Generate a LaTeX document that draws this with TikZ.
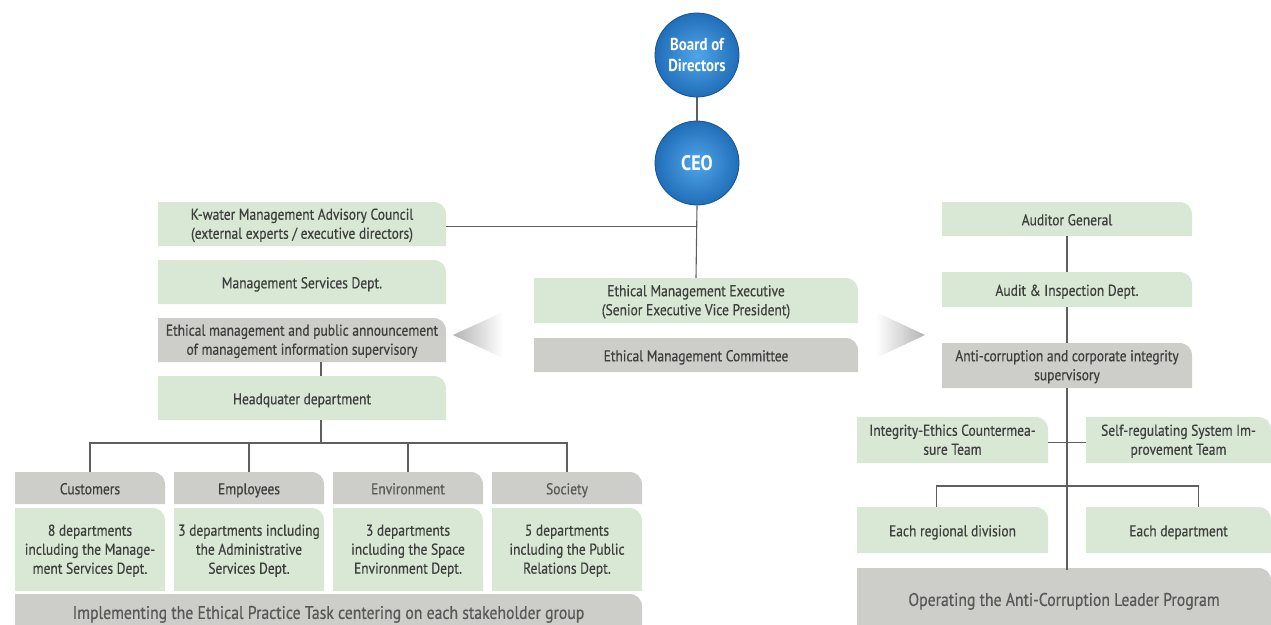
\documentclass[tikz,border=0pt]{standalone}
\usepackage{fontspec}
\setmainfont[FakeStretch=0.86]{PT Sans}
\newfontfamily\medfont[FakeStretch=0.86,FakeBold=0.5]{PT Sans}
\usetikzlibrary{calc}

\definecolor{boxgreen}{RGB}{217,232,213}
\definecolor{boxgray}{RGB}{205,205,201}
\definecolor{linec}{RGB}{95,95,95}
\definecolor{txtc}{RGB}{62,62,62}
\definecolor{softtxt}{RGB}{88,88,88}
\definecolor{ballin}{RGB}{80,165,232}
\definecolor{ballout}{RGB}{32,110,185}
\definecolor{ballrim}{RGB}{25,80,145}

\tikzset{
  x=1pt, y=-1pt,
  boxtext/.style={inner sep=0pt, align=center, text=txtc, yshift=-2.5pt,
    font=\medfont\fontsize{15.7}{19}\selectfont,
    execute at begin node=\strut, execute at end node=\strut},
  bartext/.style={boxtext, text=softtxt, font=\medfont\fontsize{18.3}{22}\selectfont},
  ballnode/.style={circle, minimum size=84pt, inner sep=0pt, align=center,
    text=white, draw=ballrim, line width=0.8pt,
    inner color=ballin, outer color=ballout},
  conn/.style={draw=linec, line width=1.1pt}
}

% box with a single rounded corner at its top right, plus its text node
% #1 name, #2 x1, #3 y1, #4 x2, #5 y2, #6 fill, #7 node style, #8 text
\newcommand\orgbox[8]{%
  \fill[#6] (#2,#5) -- (#2,#3) -- ({#4-13},#3)
    .. controls ({#4-5},#3) and (#4,{#3+5}) .. (#4,{#3+13}) -- (#4,#5) -- cycle;
  \node[#7, minimum width={(#4-#2)*1pt}, minimum height={(#5-#3)*1pt}]
    (#1) at ({(#2+#4)/2},{(#3+#5)/2}) {#8};
}

\begin{document}
\begin{tikzpicture}
\useasboundingbox (0,0) rectangle (1271,624);
\clip (0,0) rectangle (1271,624);

% top of the chart
\node[ballnode, font=\bfseries\fontsize{17.3}{21.5}\selectfont] (board) at (697,55) {Board of\\Directors};
\node[ballnode, font=\bfseries\fontsize{21}{24}\selectfont] (ceo) at (697,163) {CEO};

% left column
\orgbox{adv}{158}{202}{446}{246}{boxgreen}{boxtext}{K-water Management Advisory Council\\(external experts / executive directors)}
\orgbox{msd}{158}{260}{446}{304}{boxgreen}{boxtext}{Management Services Dept.}
\orgbox{ethsup}{158}{318}{446}{362}{boxgray}{boxtext}{Ethical management and public announcement\\of management information supervisory}
\orgbox{hq}{158}{376}{446}{420}{boxgreen}{boxtext}{Headquater department}

% stakeholder groups
\orgbox{cust}{15}{472}{165}{504}{boxgray}{boxtext}{Customers}
\orgbox{emp}{174}{472}{324}{504}{boxgray}{boxtext}{Employees}
\orgbox{env}{333}{472}{483}{504}{boxgray}{boxtext, text=softtxt}{Environment}
\orgbox{soc}{492}{472}{642}{504}{boxgray}{boxtext, text=softtxt}{Society}
\orgbox{custd}{15}{508}{165}{591}{boxgreen}{boxtext}{8 departments\\including the Manage-\\ment Services Dept.}
\orgbox{empd}{174}{508}{324}{591}{boxgreen}{boxtext}{3 departments including\\the Administrative\\Services Dept.}
\orgbox{envd}{333}{508}{483}{591}{boxgreen}{boxtext}{3 departments\\including the Space\\Environment Dept.}
\orgbox{socd}{492}{508}{642}{591}{boxgreen}{boxtext}{5 departments\\including the Public\\Relations Dept.}
\orgbox{lbar}{15}{594}{642}{630}{boxgray}{bartext}{Implementing the Ethical Practice Task centering on each stakeholder group}

% middle column
\orgbox{exec}{534}{278}{858}{323}{boxgreen}{boxtext}{Ethical Management Executive\\(Senior Executive Vice President)}
\orgbox{comm}{534}{338}{858}{372}{boxgray}{boxtext}{Ethical Management Committee}

% fading arrow heads on either side of the middle column
\shade[left color=black!30, right color=white] (453,335) -- (503,312) -- (503,358) -- cycle;
\shade[left color=white, right color=black!30] (925,335) -- (876,312) -- (876,358) -- cycle;

% right column
\orgbox{aud}{942}{202}{1192}{236}{boxgreen}{boxtext}{Auditor General}
\orgbox{insp}{942}{272}{1192}{307}{boxgreen}{boxtext}{Audit \& Inspection Dept.}
\orgbox{anti}{942}{343}{1192}{388}{boxgray}{boxtext}{Anti-corruption and corporate integrity\\supervisory}
\orgbox{integ}{857}{417}{1048}{463}{boxgreen}{boxtext}{Integrity-Ethics Countermea-\\sure Team}
\orgbox{selfreg}{1086}{417}{1271}{463}{boxgreen}{boxtext}{Self-regulating System Im-\\provement Team}
\orgbox{reg}{857}{507}{1048}{553}{boxgreen}{boxtext}{Each regional division}
\orgbox{dept}{1086}{507}{1271}{553}{boxgreen}{boxtext}{Each department}
\orgbox{rbar}{857}{568}{1271}{630}{boxgray}{bartext}{Operating the Anti-Corruption Leader Program}

% connectors
\coordinate (hqbus) at (321,443);
\coordinate (rbus) at (1067,486);
\draw[conn] (board.south) -- (ceo.north);
\draw[conn] (ceo.south) -- ([yshift=2.5pt]exec.north);
\draw[conn] (adv.east) -- (adv.east -| ceo.south);
\draw[conn] ([xshift=19pt,yshift=2.5pt]ethsup.south) -- ([xshift=19pt,yshift=2.5pt]hq.north);
\draw[conn] ([xshift=19pt,yshift=2.5pt]hq.south) -- (hqbus);
\draw[conn] ([yshift=2.5pt]cust.north) |- (hqbus) -| ([yshift=2.5pt]soc.north);
\draw[conn] ([yshift=2.5pt]emp.north) -- (emp.north |- hqbus);
\draw[conn] ([yshift=2.5pt]env.north) -- (env.north |- hqbus);
\draw[conn] ([yshift=2.5pt]aud.south) -- ([yshift=2.5pt]insp.north);
\draw[conn] ([yshift=2.5pt]insp.south) -- ([yshift=2.5pt]anti.north);
\draw[conn] ([yshift=2.5pt]anti.south) -- (anti.south |- rbar.north);
\draw[conn] (integ.east) -- (selfreg.west);
\draw[conn] ([xshift=-16pt,yshift=2.5pt]reg.north) |- (rbus) -| ([xshift=20pt,yshift=2.5pt]dept.north);
\end{tikzpicture}
\end{document}
